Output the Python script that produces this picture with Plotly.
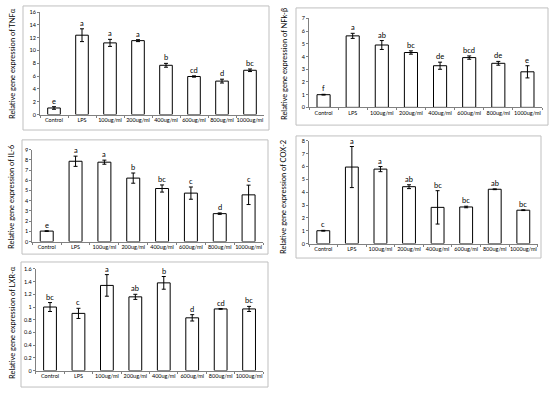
import plotly.graph_objects as go

W, H = 550, 393

categories = ["Control", "LPS", "100ug/ml", "200ug/ml", "400ug/ml", "600ug/ml", "800ug/ml", "1000ug/ml"]

tnf_values = [1.03, 12.4, 11.2, 11.55, 7.7, 5.95, 5.23, 6.92]
tnf_errors = [0.2, 1.0, 0.55, 0.15, 0.3, 0.1, 0.3, 0.2]
tnf_letters = ["e", "a", "a", "a", "b", "cd", "d", "bc"]

nfkb_values = [1.0, 5.63, 4.91, 4.32, 3.28, 3.92, 3.47, 2.8]
nfkb_errors = [0.03, 0.2, 0.35, 0.13, 0.28, 0.13, 0.15, 0.48]
nfkb_letters = ["f", "a", "ab", "bc", "de", "bcd", "de", "e"]

il6_values = [1.03, 7.87, 7.78, 6.22, 5.2, 4.75, 2.74, 4.58]
il6_errors = [0.03, 0.5, 0.2, 0.5, 0.35, 0.6, 0.07, 0.95]
il6_letters = ["e", "a", "a", "b", "bc", "c", "d", "c"]

cox2_values = [1.0, 5.96, 5.8, 4.43, 2.82, 2.85, 4.23, 2.6]
cox2_errors = [0.03, 1.6, 0.2, 0.15, 1.3, 0.06, 0.03, 0.03]
cox2_letters = ["c", "a", "a", "ab", "bc", "bc", "ab", "bc"]

lxr_values = [1.0, 0.9, 1.34, 1.16, 1.38, 0.83, 0.97, 0.97]
lxr_errors = [0.07, 0.08, 0.17, 0.04, 0.1, 0.05, 0.005, 0.04]
lxr_letters = ["bc", "c", "a", "ab", "b", "d", "cd", "bc"]

titles = ["Relative gene expression of TNFα", "Relative gene expression of NFk-β",
          "Relative gene expression of IL-6", "Relative gene expression of COX-2",
          "Relative gene expression of LXR-α"]
y_max = [16, 7, 9, 8, 1.6]
y_dtick = [2, 1, 1, 1, 0.2]

# layout (pixel geometry): plot area x0,x1 ; y pixel at top value, y pixel at 0
panels = [
    dict(px=(40, 264), py=(9.3, 113.3), box=(23, 3, 269, 129), tx=12, ty=62),
    dict(px=(309, 542), py=(15.7, 106), box=(296, 5, 548, 124), tx=284, ty=62),
    dict(px=(32.3, 263), py=(149, 242.3), box=(22, 139, 268, 255), tx=12, ty=197),
    dict(px=(309, 537.6), py=(140, 244.3), box=(296, 135, 541, 259), tx=284, ty=197),
    dict(px=(35.8, 263.3), py=(270, 373.3), box=(21, 263, 268, 390), tx=12, ty=325),
]
data_sets = [
    (tnf_values, tnf_errors, tnf_letters),
    (nfkb_values, nfkb_errors, nfkb_letters),
    (il6_values, il6_errors, il6_letters),
    (cox2_values, cox2_errors, cox2_letters),
    (lxr_values, lxr_errors, lxr_letters),
]

FONT = "Lato"
fig = go.Figure()
layout = dict(width=W, height=H, margin=dict(l=0, r=0, t=0, b=0),
              paper_bgcolor="white", plot_bgcolor="white", showlegend=False,
              shapes=[], annotations=[])

for i, (p, (vals, errs, letters)) in enumerate(zip(panels, data_sets)):
    n = "" if i == 0 else str(i + 1)
    xa, ya = "x" + n, "y" + n
    fig.add_trace(go.Bar(
        x=categories, y=vals, xaxis=xa, yaxis=ya, width=0.45,
        marker=dict(color="white", line=dict(color="black", width=1)),
        error_y=dict(type="data", array=errs, visible=True, color="black",
                     thickness=1, width=2),
        hoverinfo="skip"))
    x0, x1 = p["px"]
    ytop, y0 = p["py"]
    layout["xaxis" + n] = dict(
        domain=[x0 / W, x1 / W], anchor=ya, type="category",
        showline=True, linecolor="#808080", linewidth=1, tickangle=0,
        ticks="outside", ticklen=2, tickcolor="#808080", tickson="boundaries",
        tickfont=dict(family=FONT, size=5.5, color="#000"), showgrid=False,
        fixedrange=True)
    layout["yaxis" + n] = dict(
        domain=[1 - y0 / H, 1 - ytop / H], anchor=xa, range=[0, y_max[i]],
        dtick=y_dtick[i], showline=True, linecolor="#808080", linewidth=1,
        ticks="outside", ticklen=2, tickcolor="#808080", showgrid=False,
        zeroline=False, tickfont=dict(family=FONT, size=5.5, color="#000"),
        fixedrange=True)
    bx0, by0, bx1, by1 = p["box"]
    layout["shapes"].append(dict(type="rect", xref="paper", yref="paper",
                                 x0=bx0 / W, x1=bx1 / W, y0=1 - by1 / H, y1=1 - by0 / H,
                                 line=dict(color="#bfbfbf", width=1)))
    layout["annotations"].append(dict(
        text=titles[i], xref="paper", yref="paper", x=p["tx"] / W, y=1 - p["ty"] / H,
        textangle=-90, showarrow=False, xanchor="center", yanchor="middle",
        font=dict(family=FONT, size=7.5, color="#000")))
    for c, v, e, l in zip(categories, vals, errs, letters):
        layout["annotations"].append(dict(
            text=l, x=c, y=v + e, xref=xa, yref=ya, showarrow=False,
            yanchor="bottom", yshift=-1, font=dict(family=FONT, size=7.5, color="#000")))

fig.update_layout(**layout)
fig.write_html("out.html", config={"displayModeBar": False},
               post_script="document.body.style.margin='0';document.body.style.overflow='hidden';")
